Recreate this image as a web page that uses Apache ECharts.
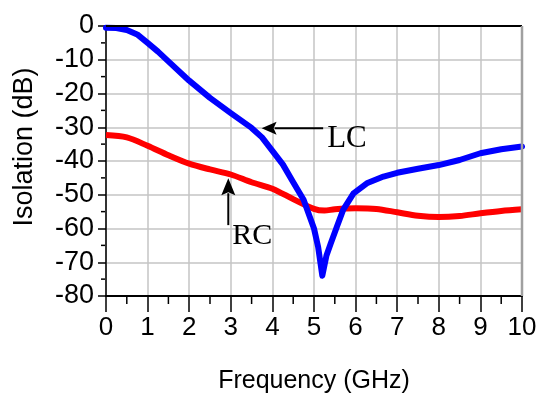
<!DOCTYPE html>
<html>
<head>
<meta charset="utf-8">
<script src="https://cdn.jsdelivr.net/npm/echarts@6/dist/echarts.min.js"></script>
<style>
html,body{margin:0;padding:0;background:#fff;}
#chart{width:543px;height:399px;}
</style>
</head>
<body>
<div id="chart"></div>
<script>
// Frequency (GHz) and isolation (dB)
var freqLC = [0, 0.25, 0.5, 0.75, 1, 1.25, 1.5, 2, 2.5, 3, 3.5, 3.75, 4, 4.25, 4.5, 4.75, 5, 5.1, 5.2, 5.3, 5.4, 5.55, 5.7, 5.95, 6.27, 6.67, 7, 7.5, 8, 8.5, 9, 9.5, 10];
var isoLC  = [-0.5, -0.6, -1.2, -2.5, -5, -7.6, -10.5, -16.2, -21.3, -25.8, -30.2, -33, -37, -41, -46.3, -51.5, -60, -65.5, -74, -68, -64.5, -59.5, -54.5, -49.6, -46.6, -44.6, -43.5, -42.3, -41.2, -39.7, -37.7, -36.5, -35.7];
var freqRC = [0, 0.5, 1, 1.5, 2, 2.5, 3, 3.5, 4, 4.5, 5, 5.25, 5.5, 6, 6.5, 7, 7.5, 8, 8.5, 9, 9.5, 10];
var isoRC  = [-32.3, -33, -35.5, -38.3, -40.8, -42.5, -44, -46.3, -48.2, -51.3, -54.2, -54.7, -54.3, -54, -54.2, -55.2, -56.2, -56.6, -56.3, -55.5, -54.8, -54.3];
// minor tick values
var xMinor = [0.5, 1.5, 2.5, 3.5, 4.5, 5.5, 6.5, 7.5, 8.5, 9.5];
var yMinor = [-5, -15, -25, -35, -45, -55, -65, -75];
// annotation anchors (data coordinates)
var lcArrow = {from: [5.22, -30.3], to: [3.74, -30.3], label: 'LC'};
var rcArrow = {from: [2.94, -59], to: [2.94, -45.1], label: 'RC'};

function pairs(xs, ys){ return xs.map(function(x,i){ return [x, ys[i]]; }); }

var chart = echarts.init(document.getElementById('chart'), null, {renderer:'canvas'});
var font = '"Liberation Sans", Arial, sans-serif';
var serif = '"Liberation Serif", "Times New Roman", serif';

var option = {
  animation: false,
  backgroundColor: '#fff',
  grid: {left: 106, right: 21, top: 26, bottom: 103, containLabel: false},
  xAxis: {
    type: 'value', min: 0, max: 10, interval: 1,
    name: 'Frequency (GHz)', nameLocation: 'middle', nameGap: 73,
    nameTextStyle: {fontFamily: font, fontSize: 25, color: '#000'},
    axisLine: {show: true, onZero: false, lineStyle: {color: '#000', width: 2}},
    axisTick: {show: true, inside: false, length: 16, lineStyle: {color: '#000', width: 1.5}},
    minorTick: {show: false},
    axisLabel: {fontFamily: font, fontSize: 26, color: '#000', margin: 19},
    splitLine: {show: true, lineStyle: {color: '#c4c4c4', width: 1.5}}
  },
  yAxis: {
    type: 'value', min: -80, max: 0, interval: 10,
    axisLine: {show: true, onZero: false, lineStyle: {color: '#333', width: 2}},
    axisTick: {show: true, inside: false, length: 8, lineStyle: {color: '#000', width: 1.5}},
    minorTick: {show: false},
    axisLabel: {fontFamily: font, fontSize: 27, color: '#000', margin: 12},
    splitLine: {show: true, lineStyle: {color: '#c4c4c4', width: 1.5}}
  },
  series: [{
    name: 'RC', type: 'line', data: pairs(freqRC, isoRC), showSymbol: false, symbol: 'none',
    smooth: 0.3, lineStyle: {color: '#ff0000', width: 6}, z: 3
  }, {
    name: 'LC', type: 'line', data: pairs(freqLC, isoLC), showSymbol: false, symbol: 'none',
    smooth: false, lineStyle: {color: '#0000ff', width: 6, join: 'round', cap: 'round'}, z: 4
  }],
  graphic: []
};
chart.setOption(option);

function px(p){ return chart.convertToPixel({gridIndex: 0}, p); }
function arrowGraphics(a, horizontal){
  var s = px(a.from), t = px(a.to);
  var g = [];
  var headLen = horizontal ? 15 : 17, headHalf = horizontal ? 6.5 : 7;
  var dx = t[0]-s[0], dy = t[1]-s[1], L = Math.sqrt(dx*dx+dy*dy);
  var ux = dx/L, uy = dy/L;
  var bx = t[0]-ux*headLen, by = t[1]-uy*headLen;
  g.push({type:'line', shape:{x1:s[0], y1:s[1], x2:bx+ux*2, y2:by+uy*2}, style:{stroke:'#000', lineWidth:2}, z:10});
  g.push({type:'polygon', shape:{points:[[t[0],t[1]],[bx-uy*headHalf, by+ux*headHalf],[bx+ux*3, by+uy*3],[bx+uy*headHalf, by-ux*headHalf]]}, style:{fill:'#000'}, z:10});
  return {g: g, s: s, t: t};
}
var lc = arrowGraphics(lcArrow, true);
var rc = arrowGraphics(rcArrow, false);
var graphics = lc.g.concat(rc.g);
// plot frame: top (black) and right (grey) borders
var tl = px([0, 0]), tr = px([10, 0]), br = px([10, -80]), bl = px([0, -80]);
graphics.push({type:'line', shape:{x1:tl[0], y1:tl[1], x2:tr[0], y2:tr[1]}, style:{stroke:'#000', lineWidth:2}, z:9});
graphics.push({type:'line', shape:{x1:tr[0], y1:tr[1], x2:br[0], y2:br[1]}, style:{stroke:'#a0a0a0', lineWidth:2.5}, z:9});
// minor ticks (outside)
xMinor.forEach(function(v){
  var p = px([v, -80]);
  graphics.push({type:'line', shape:{x1:p[0], y1:p[1]+1, x2:p[0], y2:p[1]+8}, style:{stroke:'#000', lineWidth:1.5}, z:9});
});
yMinor.forEach(function(v){
  var p = px([0, v]);
  graphics.push({type:'line', shape:{x1:p[0]-1, y1:p[1], x2:p[0]-5, y2:p[1]}, style:{stroke:'#000', lineWidth:1.5}, z:9});
});
graphics.push({type:'text', x: lc.s[0]+4, y: lc.s[1]+10.5, z: 10,
  style:{text: lcArrow.label, font: '31px ' + serif, fill:'#000', textAlign:'left', textVerticalAlign:'middle'}});
graphics.push({type:'text', x: rc.s[0]+4, y: rc.s[1]+11, z: 10,
  style:{text: rcArrow.label, font: '30px ' + serif, fill:'#000', textAlign:'left', textVerticalAlign:'middle'}});
graphics.push({type:'text', x: 25, y: 147, rotation: Math.PI/2, z: 10,
  style:{text: 'Isolation (dB)', font: '27px ' + font, fill:'#000', textAlign:'center', textVerticalAlign:'middle'}});
chart.setOption({graphic: graphics});
</script>
</body>
</html>
